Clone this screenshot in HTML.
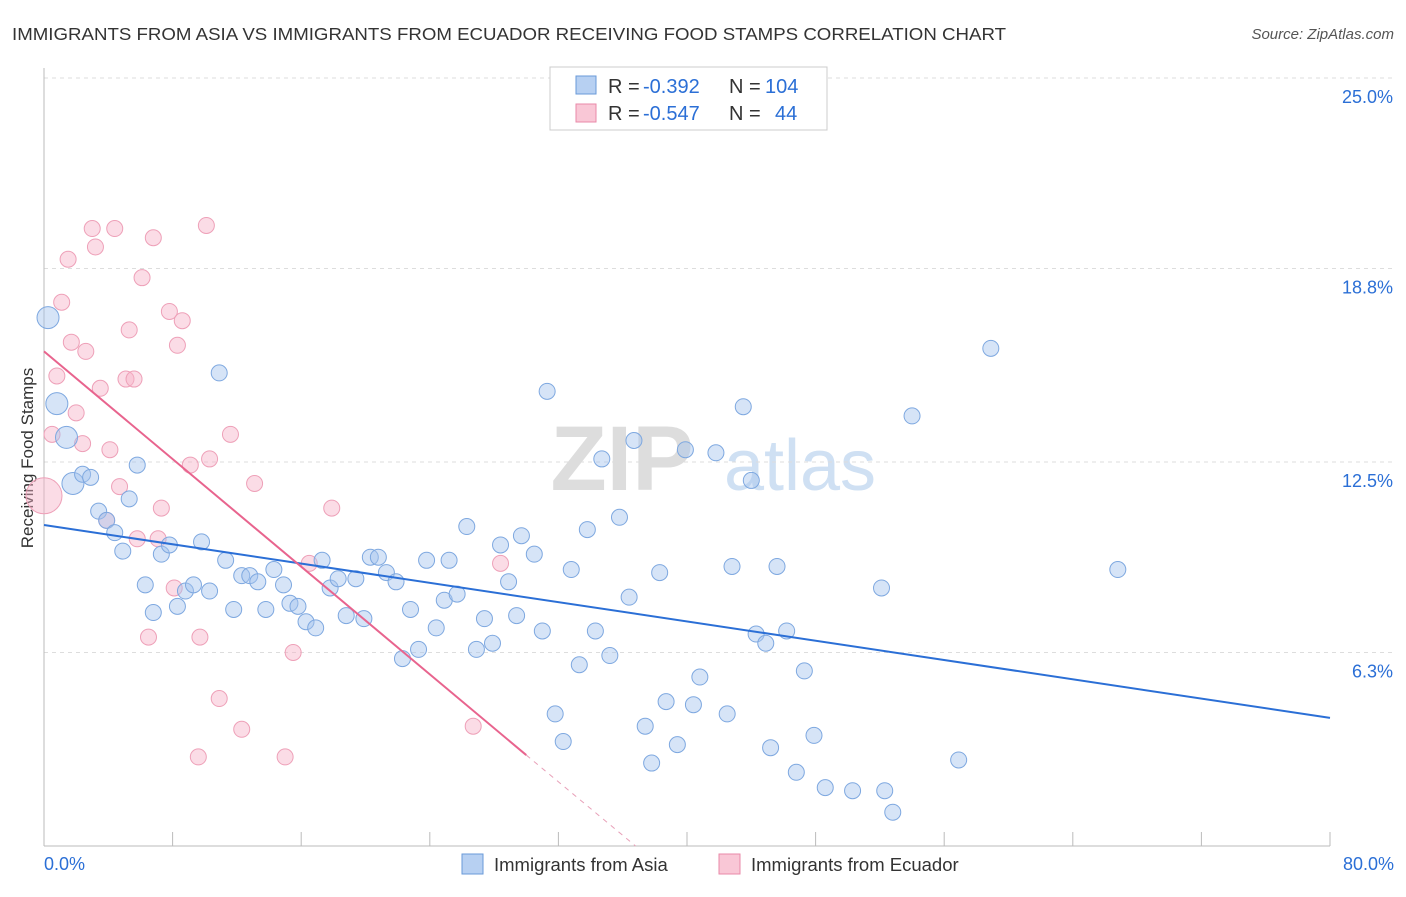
<!DOCTYPE html>
<html><head><meta charset="utf-8">
<style>
body{margin:0;background:#fff;font-family:"Liberation Sans",sans-serif;}
svg text{font-family:"Liberation Sans",sans-serif;}
</style></head>
<body>
<svg id="chart" width="1406" height="892" xmlns="http://www.w3.org/2000/svg">
<text x="12" y="40" font-size="17.5" fill="#333" textLength="994" lengthAdjust="spacingAndGlyphs">IMMIGRANTS FROM ASIA VS IMMIGRANTS FROM ECUADOR RECEIVING FOOD STAMPS CORRELATION CHART</text>
<text x="1394" y="39" font-size="15" fill="#555" text-anchor="end" font-style="italic">Source: ZipAtlas.com</text>
<text x="33" y="458" font-size="17" fill="#333" text-anchor="middle" transform="rotate(-90 33 458)">Receiving Food Stamps</text>
<g>
<text x="622" y="490" font-size="92" fill="#ddd" text-anchor="middle" font-family="Liberation Serif" font-weight="bold">ZIP</text>
<text x="800" y="490" font-size="72" fill="#cfe0f3" text-anchor="middle">atlas</text>
</g>
<g id="grid"></g><g id="axes"></g><g id="pts"></g><g id="trend"></g>
<g>
<rect x="550" y="67" width="277" height="63" fill="#fff" stroke="#ccc"/>
<rect x="576" y="76" width="20" height="18" fill="#b7d0f2" stroke="#6a9ad8"/>
<rect x="576" y="104" width="20" height="18" fill="#f9c7d6" stroke="#e98aa8"/>
<text x="608" y="93" font-size="20" fill="#333">R =</text>
<text x="643" y="93" font-size="20" fill="#2b6fd6">-0.392</text>
<text x="729" y="93" font-size="20" fill="#333">N =</text>
<text x="765" y="93" font-size="20" fill="#2b6fd6">104</text>
<text x="608" y="120" font-size="20" fill="#333">R =</text>
<text x="643" y="120" font-size="20" fill="#2b6fd6">-0.547</text>
<text x="729" y="120" font-size="20" fill="#333">N =</text>
<text x="775" y="120" font-size="20" fill="#2b6fd6">44</text>
</g>
<g>
<rect x="462" y="854" width="21" height="20" fill="#b7d0f2" stroke="#6a9ad8"/>
<text x="494" y="871" font-size="18.5" fill="#333">Immigrants from Asia</text>
<rect x="719" y="854" width="21" height="20" fill="#f9c7d6" stroke="#e98aa8"/>
<text x="751" y="871" font-size="18.5" fill="#333">Immigrants from Ecuador</text>
</g>
</svg>
<script>
const blueX=[0.25,0.8,1.4,1.8,2.4,2.9,3.4,3.9,4.4,4.9,5.3,5.8,6.3,6.8,7.3,7.8,8.3,8.8,9.3,9.8,10.3,10.9,11.3,11.8,12.3,12.8,13.3,13.8,14.3,14.9,15.3,15.8,16.3,16.9,17.3,17.8,18.3,18.8,19.4,19.9,20.3,20.8,21.3,21.9,22.3,22.8,23.3,23.8,24.4,24.9,25.2,25.7,26.3,26.9,27.4,27.9,28.4,28.9,29.4,29.7,30.5,31.0,31.3,31.8,32.3,32.8,33.3,33.8,34.3,34.7,35.2,35.8,36.4,36.7,37.4,37.8,38.3,38.7,39.4,39.9,40.4,40.8,41.8,42.5,42.8,43.5,44.0,44.3,44.9,45.2,45.6,46.2,46.8,47.3,47.9,48.6,50.3,52.1,52.3,52.8,54.0,56.9,58.9,66.8];
const blueY=[17.2,14.4,13.3,11.8,12.1,12.0,10.9,10.6,10.2,9.6,11.3,12.4,8.5,7.6,9.5,9.8,7.8,8.3,8.5,9.9,8.3,15.4,9.3,7.7,8.8,8.8,8.6,7.7,9.0,8.5,7.9,7.8,7.3,7.1,9.3,8.4,8.7,7.5,8.7,7.4,9.4,9.4,8.9,8.6,6.1,7.7,6.4,9.3,7.1,8.0,9.3,8.2,10.4,6.4,7.4,6.6,9.8,8.6,7.5,10.1,9.5,7.0,14.8,4.3,3.4,9.0,5.9,10.3,7.0,12.6,6.2,10.7,8.1,13.2,3.9,2.7,8.9,4.7,3.3,12.9,4.6,5.5,12.8,4.3,9.1,14.3,11.9,6.9,6.6,3.2,9.1,7.0,2.4,5.7,3.6,1.9,1.8,8.4,1.8,1.1,14.0,2.8,16.2,9.0];
const pinkX=[0,0.5,0.8,1.1,1.5,1.7,2.0,2.4,2.6,3.0,3.2,3.5,3.9,4.1,4.4,4.7,5.1,5.3,5.6,5.8,6.1,6.8,7.1,7.3,7.8,8.1,8.3,8.6,9.1,9.6,9.7,10.1,10.3,10.9,11.6,12.3,13.1,15.0,15.5,16.5,17.9,26.7,28.4,6.5];
const pinkY=[11.4,13.4,15.3,17.7,19.1,16.4,14.1,13.1,16.1,20.1,19.5,14.9,10.6,12.9,20.1,11.7,15.2,16.8,15.2,10.0,18.5,19.8,10.0,11.0,17.4,8.4,16.3,17.1,12.4,2.9,6.8,20.2,12.6,4.8,13.4,3.8,11.8,2.9,6.3,9.2,11.0,3.9,9.2,6.8];
const yTicks=[25.0,18.8,12.5,6.3];
const yTickLabels=["25.0%","18.8%","12.5%","6.3%"];
const xTicks=[0,8,16,24,32,40,48,56,64,72,80];
const blueTrend=[[0,10.45],[80,4.17]];
const pinkTrend=[[0,16.1],[30,2.96],[36.8,0]];
const NS="http://www.w3.org/2000/svg";
function sx(v){return 44+v*16.075;}
function sy(v){return 846-v*30.72;}
function mk(t,a,p){const e=document.createElementNS(NS,t);for(const k in a)e.setAttribute(k,a[k]);p.appendChild(e);return e;}
const grid=document.getElementById('grid'),axes=document.getElementById('axes'),pts=document.getElementById('pts'),trend=document.getElementById('trend');
yTicks.forEach((v,i)=>{
 const l=mk('line',{x1:44,x2:1394,y1:sy(v),y2:sy(v),stroke:'#ddd','stroke-dasharray':'4,4'},grid);
 
 
 const t=mk('text',{x:1393,y:sy(v)+25,'font-size':18,fill:'#2b6fd6','text-anchor':'end'},axes);
 t.textContent=yTickLabels[i];
 
 
});
const ax=mk('line',{x1:44,x2:44,y1:68,y2:846,stroke:'#bbb'},axes);


const bx=mk('line',{x1:44,x2:1330,y1:846,y2:846,stroke:'#bbb'},axes);


xTicks.forEach(v=>{
 const l=mk('line',{x1:sx(v),x2:sx(v),y1:832,y2:846,stroke:'#bbb'},axes);
 
 
});
const xl0=mk('text',{x:44,y:870,'font-size':18,fill:'#2b6fd6'},axes);xl0.textContent=xTicks[0].toFixed(1)+'%';


const xl1=mk('text',{x:1394,y:870,'font-size':18,fill:'#2b6fd6','text-anchor':'end'},axes);xl1.textContent=xTicks[xTicks.length-1].toFixed(1)+'%';


pinkX.forEach((x,i)=>{
 const c=mk('circle',{cx:sx(x),cy:sy(pinkY[i]),r:i==0?18:8,fill:'rgba(246,178,200,0.45)',stroke:'#eea0b8','stroke-width':1},pts);
 
 
});
blueX.forEach((x,i)=>{
 const c=mk('circle',{cx:sx(x),cy:sy(blueY[i]),r:i<4?11:8,fill:'rgba(165,196,238,0.45)',stroke:'#7ea8e0','stroke-width':1},pts);
 
 
});
const bl=mk('line',{x1:sx(blueTrend[0][0]),y1:sy(blueTrend[0][1]),x2:sx(blueTrend[1][0]),y2:sy(blueTrend[1][1]),stroke:'#2b6fd6','stroke-width':2},trend);


const pl=mk('line',{x1:sx(pinkTrend[0][0]),y1:sy(pinkTrend[0][1]),x2:sx(pinkTrend[1][0]),y2:sy(pinkTrend[1][1]),stroke:'#e8648e','stroke-width':2},trend);


const pd=mk('line',{x1:sx(pinkTrend[1][0]),y1:sy(pinkTrend[1][1]),x2:sx(pinkTrend[2][0]),y2:sy(pinkTrend[2][1]),stroke:'#e8a0b8','stroke-width':1,'stroke-dasharray':'5,5'},trend);


</script>
</body></html>
